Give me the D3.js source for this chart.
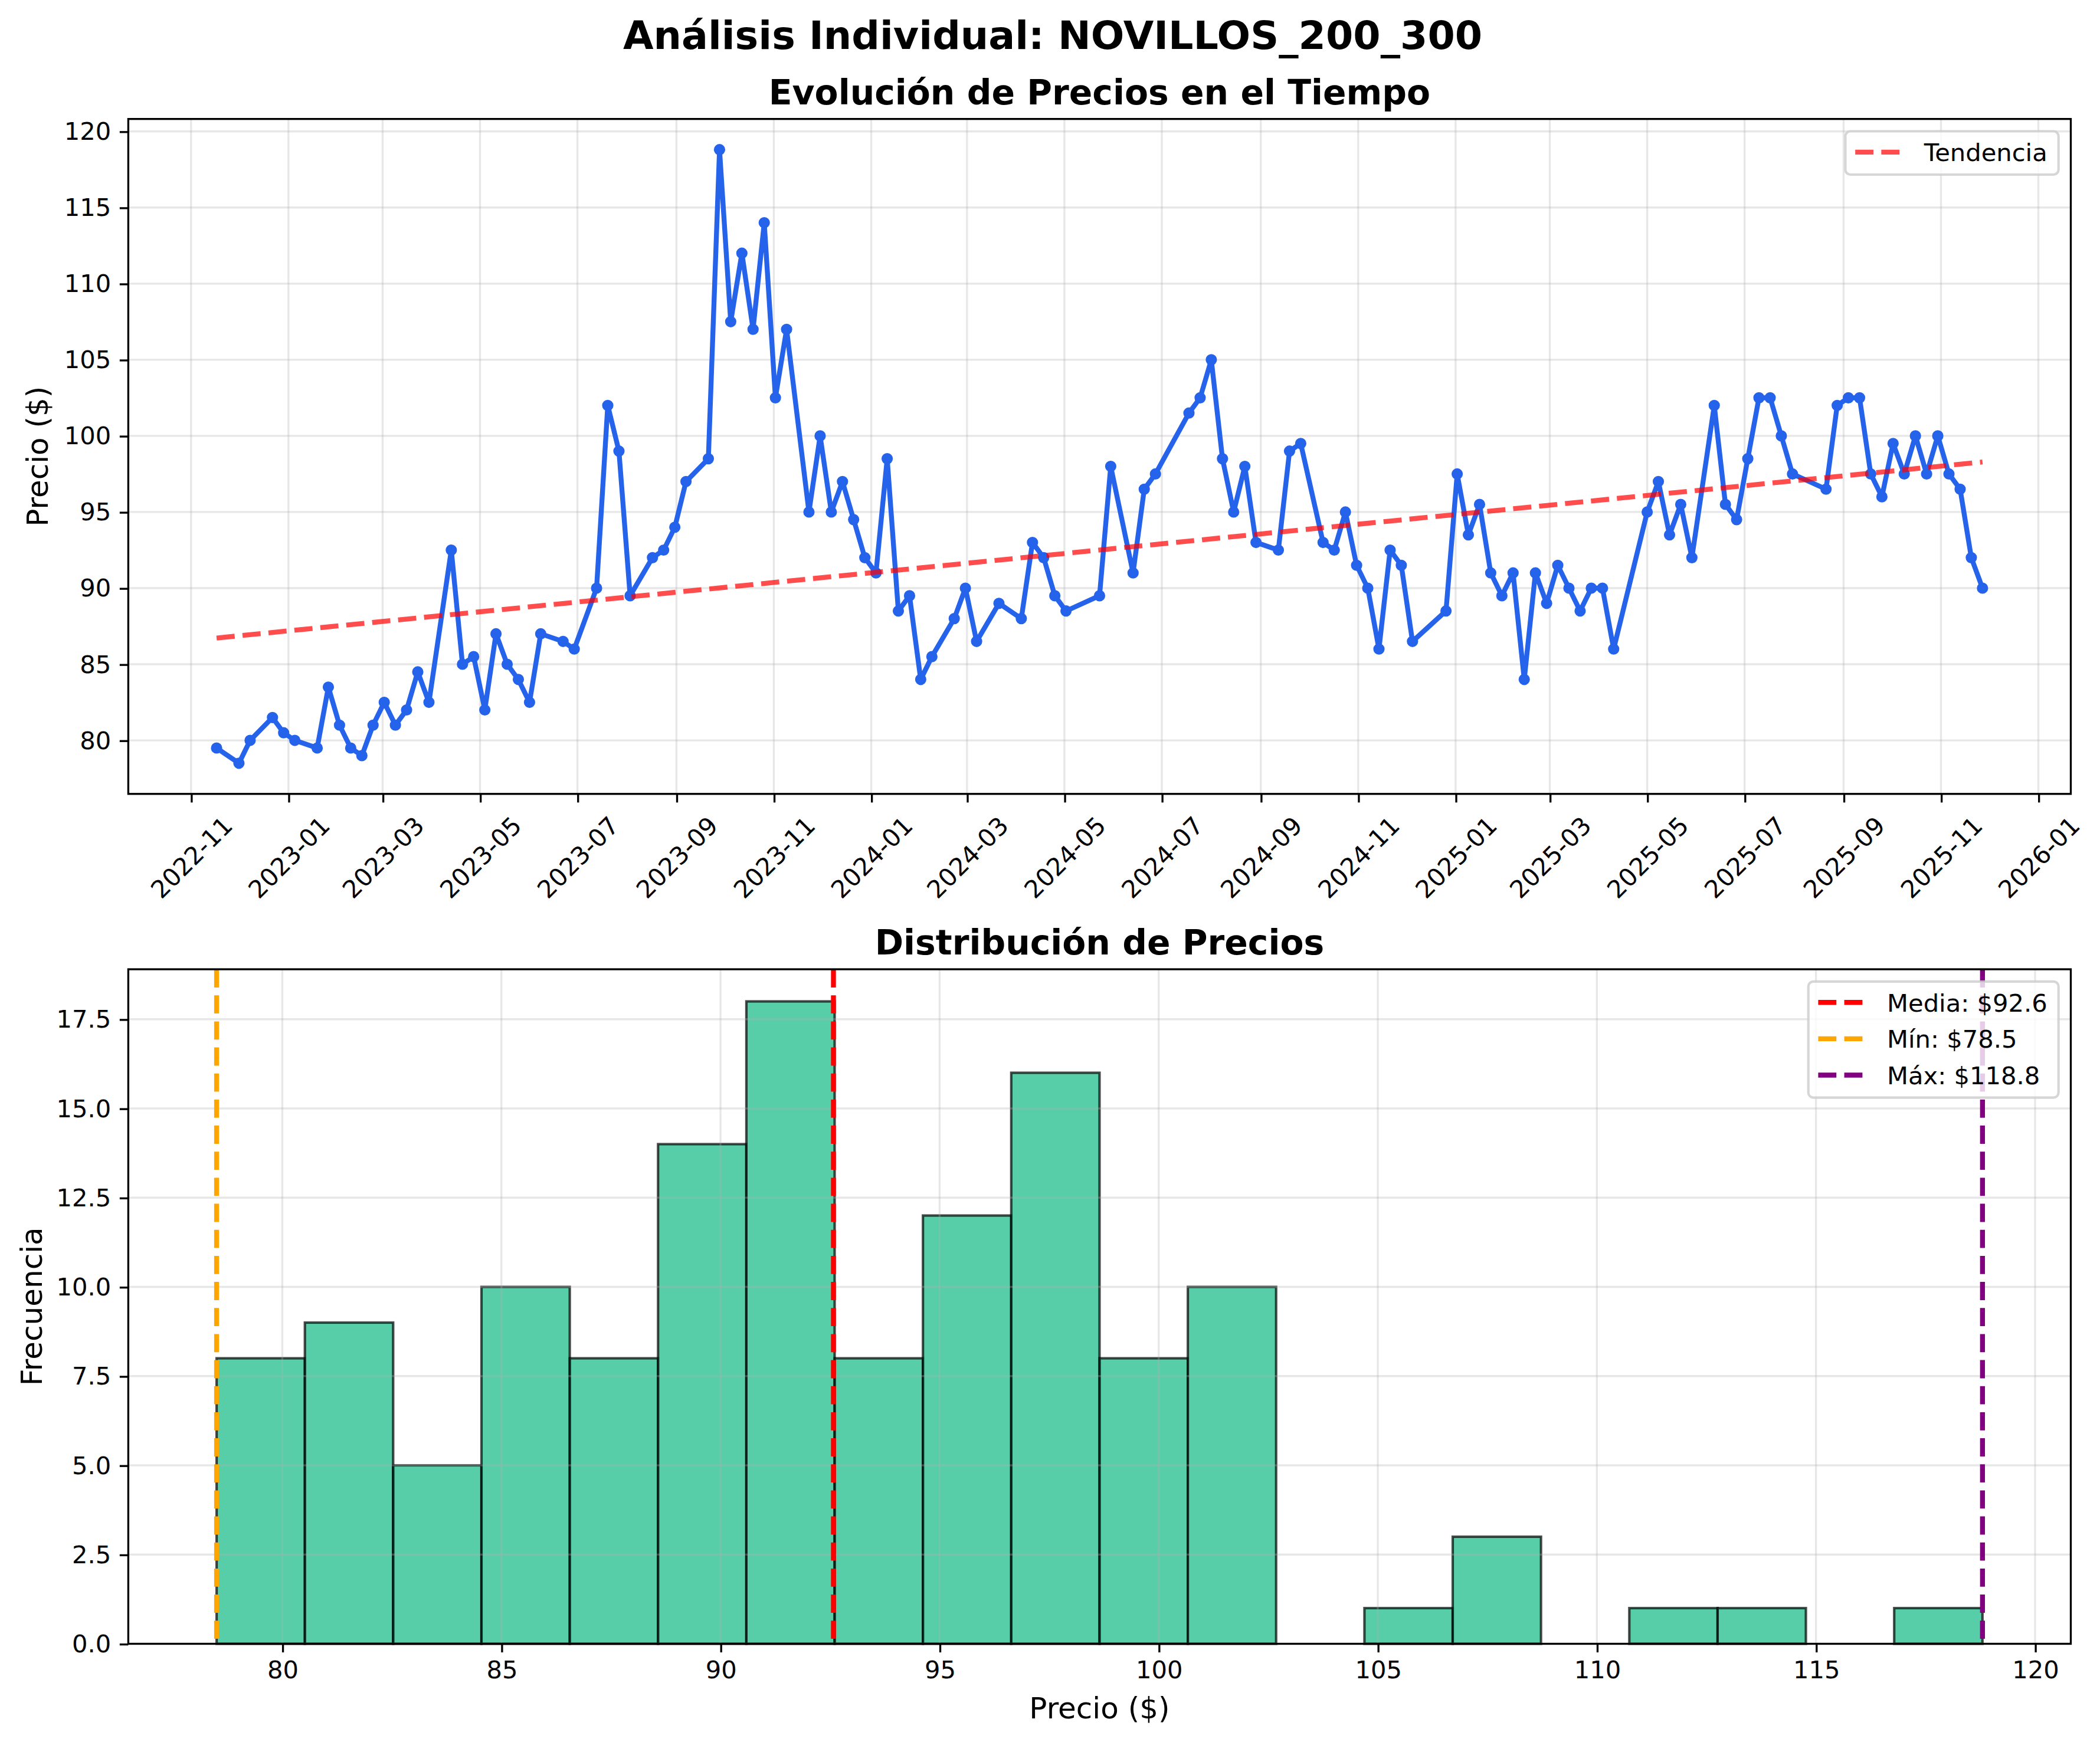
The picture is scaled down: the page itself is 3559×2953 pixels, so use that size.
<!DOCTYPE html>
<html lang="es">
<head>
<meta charset="UTF-8">
<title>Análisis Individual: NOVILLOS_200_300</title>
<script src="https://d3js.org/d3.v7.min.js"></script>
<style>
  html, body { margin: 0; padding: 0; background: #fff; overflow: hidden; }
  svg { display: block; font-family: "DejaVu Sans", sans-serif; }
</style>
</head>
<body>
<svg id="chart"></svg>
<script>
// ---- datos ----
const fechas = [
  "2022-11-17","2022-12-01","2022-12-08","2022-12-22","2022-12-29","2023-01-05","2023-01-19","2023-01-26",
  "2023-02-02","2023-02-09","2023-02-16","2023-02-23","2023-03-02","2023-03-09","2023-03-16","2023-03-23",
  "2023-03-30","2023-04-13","2023-04-20","2023-04-27","2023-05-04","2023-05-11","2023-05-18","2023-05-25",
  "2023-06-01","2023-06-08","2023-06-22","2023-06-29","2023-07-13","2023-07-20","2023-07-27","2023-08-03",
  "2023-08-17","2023-08-24","2023-08-31","2023-09-07","2023-09-21","2023-09-28","2023-10-05","2023-10-12",
  "2023-10-19","2023-10-26","2023-11-02","2023-11-09","2023-11-23","2023-11-30","2023-12-07","2023-12-14",
  "2023-12-21","2023-12-28","2024-01-04","2024-01-11","2024-01-18","2024-01-25","2024-02-01","2024-02-08",
  "2024-02-22","2024-02-29","2024-03-07","2024-03-21","2024-04-04","2024-04-11","2024-04-18","2024-04-25",
  "2024-05-02","2024-05-23","2024-05-30",
  "2024-06-13","2024-06-20","2024-06-27","2024-07-18","2024-07-25","2024-08-01","2024-08-08","2024-08-15",
  "2024-08-22","2024-08-29","2024-09-12","2024-09-19","2024-09-26","2024-10-10","2024-10-17","2024-10-24",
  "2024-10-31","2024-11-07","2024-11-14","2024-11-21","2024-11-28","2024-12-05","2024-12-26","2025-01-02",
  "2025-01-09","2025-01-16","2025-01-23","2025-01-30","2025-02-06","2025-02-13","2025-02-20","2025-02-27",
  "2025-03-06","2025-03-13","2025-03-20","2025-03-27",
  "2025-04-03","2025-04-10","2025-05-01","2025-05-08","2025-05-15","2025-05-22","2025-05-29","2025-06-12",
  "2025-06-19","2025-06-26","2025-07-03","2025-07-10","2025-07-17","2025-07-24","2025-07-31","2025-08-21",
  "2025-08-28","2025-09-04","2025-09-11","2025-09-18","2025-09-25","2025-10-02","2025-10-09","2025-10-16",
  "2025-10-23","2025-10-30","2025-11-06","2025-11-13","2025-11-20","2025-11-27"
];
const precios = [
  79.5, 78.5, 80, 81.5, 80.5, 80, 79.5, 83.5,
  81, 79.5, 79, 81, 82.5, 81, 82, 84.5,
  82.5, 92.5, 85, 85.5, 82, 87, 85, 84,
  82.5, 87, 86.5, 86, 90, 102, 99, 89.5,
  92, 92.5, 94, 97, 98.5, 118.8, 107.5, 112,
  107, 114, 102.5, 107, 95, 100, 95, 97,
  94.5, 92, 91, 98.5, 88.5, 89.5, 84, 85.5,
  88, 90, 86.5, 89, 88, 93, 92, 89.5,
  88.5, 89.5, 98,
  91, 96.5, 97.5, 101.5, 102.5, 105, 98.5, 95,
  98, 93, 92.5, 99, 99.5, 93, 92.5, 95,
  91.5, 90, 86, 92.5, 91.5, 86.5, 88.5, 97.5,
  93.5, 95.5, 91, 89.5, 91, 84, 91, 89,
  91.5, 90, 88.5, 90,
  90, 86, 95, 97, 93.5, 95.5, 92, 102,
  95.5, 94.5, 98.5, 102.5, 102.5, 100, 97.5, 96.5,
  102, 102.5, 102.5, 97.5, 96, 99.5, 97.5, 100,
  97.5, 100, 97.5, 96.5, 92, 90
];
const ticksFechas = ["2022-11","2023-01","2023-03","2023-05","2023-07","2023-09","2023-11","2024-01","2024-03",
  "2024-05","2024-07","2024-09","2024-11","2025-01","2025-03","2025-05","2025-07","2025-09","2025-11","2026-01"];
const ticksPrecio = [80, 85, 90, 95, 100, 105, 110, 115, 120];
const ticksFrecuencia = [0, 2.5, 5, 7.5, 10, 12.5, 15, 17.5];
const numBins = 20;

const tituloGeneral = "Análisis Individual: NOVILLOS_200_300";
const tituloSerie = "Evolución de Precios en el Tiempo";
const tituloHist = "Distribución de Precios";

// ---- lienzo: se dibuja en unidades de 1560 de ancho y se escala ----
const S = 3559 / 1560;
const VW = 1560, VH = 2953 / S;
const PT = 300 / 72 / S;           // un punto tipográfico en unidades del lienzo
const FS_TICK = 10 * PT, FS_LABEL = 12 * PT, FS_SUB = 14 * PT, FS_SUP = 16 * PT;
const LW_SPINE = 0.8 * PT, TICK_LEN = 3.5 * PT, TICK_PAD = 3.5 * PT;
const DASH = `${7.4 * PT} ${3.2 * PT}`;

const svg = d3.select("#chart")
  .attr("width", 3559).attr("height", 2953)
  .attr("viewBox", `0 0 ${VW} ${VH}`);
svg.append("rect").attr("width", VW).attr("height", VH).attr("fill", "#fff");

const parse = d3.utcParse("%Y-%m-%d");
const parseMes = d3.utcParse("%Y-%m");
const serie = fechas.map((f, i) => ({ fecha: parse(f), precio: precios[i] }));

const pmin = d3.min(precios), pmax = d3.max(precios), pmedia = d3.mean(precios);
const prango = pmax - pmin;

function grid(g, xs, ys, box) {
  const gg = g.append("g").attr("stroke", "#b0b0b0").attr("stroke-opacity", 0.3).attr("stroke-width", LW_SPINE);
  xs.forEach(v => gg.append("line").attr("x1", v).attr("x2", v).attr("y1", box.top).attr("y2", box.bottom));
  ys.forEach(v => gg.append("line").attr("y1", v).attr("y2", v).attr("x1", box.left).attr("x2", box.right));
}

function styleAxis(g) {
  g.select(".domain").remove();
  g.selectAll(".tick line").attr("stroke", "#000").attr("stroke-width", LW_SPINE);
  g.selectAll(".tick text").attr("font-size", FS_TICK).attr("font-family", "DejaVu Sans").attr("fill", "#000");
}

function frame(g, box) {
  g.append("rect").attr("x", box.left).attr("y", box.top)
    .attr("width", box.right - box.left).attr("height", box.bottom - box.top)
    .attr("fill", "none").attr("stroke", "#000").attr("stroke-width", LW_SPINE);
}

function legend(g, right, top, items) {
  const pad = 0.4 * FS_TICK, hl = 2 * FS_TICK, htp = 0.8 * FS_TICK, step = 27;
  const lg = g.append("g");
  const box = lg.append("rect");
  const texts = items.map((it, i) => lg.append("text")
    .attr("x", pad + hl + htp).attr("y", 22.3 + i * step)
    .attr("font-size", FS_TICK).attr("fill", "#000").text(it.label));
  const tw = d3.max(texts, t => t.node().getComputedTextLength());
  const w = 2 * pad + hl + htp + tw + 1;
  const h = 2 * pad + 17.6 + (items.length - 1) * step;
  box.attr("width", w).attr("height", h).attr("rx", 0.2 * FS_TICK)
    .attr("fill", "#fff").attr("fill-opacity", 0.8)
    .attr("stroke", "#cccccc").attr("stroke-opacity", 0.8).attr("stroke-width", PT);
  items.forEach((it, i) => lg.insert("line", "text")
    .attr("x1", pad).attr("x2", pad + hl)
    .attr("y1", 22.3 + i * step - 6.8).attr("y2", 22.3 + i * step - 6.8)
    .attr("stroke", it.color).attr("stroke-opacity", it.opacity || 1)
    .attr("stroke-width", 2 * PT).attr("stroke-dasharray", DASH));
  lg.attr("transform", `translate(${right - w},${top})`);
}

// ---- títulos ----
svg.append("text").attr("x", 782).attr("y", 36.5).attr("text-anchor", "middle")
  .attr("font-size", FS_SUP).attr("font-weight", "bold").text(tituloGeneral);

// ================= panel superior: serie temporal =================
const b1 = { left: 95.3, right: 1538.3, top: 88.4, bottom: 589.9 };
const g1 = svg.append("g");
const t0 = +serie[0].fecha, t1 = +serie[serie.length - 1].fecha, tspan = t1 - t0;
const x1 = d3.scaleUtc()
  .domain([new Date(t0 - 0.05 * tspan), new Date(t1 + 0.05 * tspan)])
  .range([b1.left, b1.right]);
const y1 = d3.scaleLinear()
  .domain([pmin - 0.05 * prango, pmax + 0.05 * prango])
  .range([b1.bottom, b1.top]);
const fechasTick = ticksFechas.map(parseMes);

g1.append("text").attr("x", (b1.left + b1.right) / 2).attr("y", b1.top - 6 * PT)
  .attr("text-anchor", "middle").attr("font-size", FS_SUB).attr("font-weight", "bold").text(tituloSerie);

grid(g1, fechasTick.map(x1), ticksPrecio.map(y1), b1);

// tendencia lineal (mínimos cuadrados sobre la fecha)
const xs = serie.map(d => +d.fecha), ys = precios;
const mx = d3.mean(xs), my = d3.mean(ys);
const slope = d3.sum(xs, (v, i) => (v - mx) * (ys[i] - my)) / d3.sum(xs, v => (v - mx) * (v - mx));
const icpt = my - slope * mx;
const tendencia = [t0, t1].map(t => ({ fecha: new Date(t), precio: icpt + slope * t }));

const linea = d3.line().x(d => x1(d.fecha)).y(d => y1(d.precio));

g1.append("path").datum(serie).attr("d", linea)
  .attr("fill", "none").attr("stroke", "#2563eb").attr("stroke-width", 2 * PT)
  .attr("stroke-linejoin", "round");
g1.append("g").selectAll("circle").data(serie).join("circle")
  .attr("cx", d => x1(d.fecha)).attr("cy", d => y1(d.precio))
  .attr("r", 2 * PT).attr("fill", "#2563eb").attr("stroke", "#2563eb").attr("stroke-width", 0.6 * PT);

g1.append("path").datum(tendencia).attr("d", linea)
  .attr("fill", "none").attr("stroke", "red").attr("stroke-opacity", 0.7)
  .attr("stroke-width", 2 * PT).attr("stroke-dasharray", DASH);

g1.append("g").attr("transform", `translate(${b1.left},0)`)
  .call(d3.axisLeft(y1).tickValues(ticksPrecio).tickSize(TICK_LEN).tickPadding(TICK_PAD).tickFormat(d3.format("d")))
  .call(styleAxis);

const ax1 = g1.append("g").attr("transform", `translate(0,${b1.bottom})`)
  .call(d3.axisBottom(x1).tickValues(fechasTick).tickSize(TICK_LEN).tickFormat(d3.utcFormat("%Y-%m")))
  .call(styleAxis);
ax1.selectAll(".tick text").each(function () {
  const t = d3.select(this);
  const w = this.getComputedTextLength();
  const bh = (w + 1.16 * FS_TICK) * Math.SQRT1_2;
  t.attr("y", null).attr("dy", null).attr("x", 0)
    .attr("text-anchor", "middle").attr("dominant-baseline", "central")
    .attr("transform", `translate(0,${TICK_LEN + TICK_PAD + bh / 2}) rotate(-45)`);
});

g1.append("text").attr("transform", `translate(28,${(b1.top + b1.bottom) / 2}) rotate(-90)`)
  .attr("text-anchor", "middle").attr("dominant-baseline", "central")
  .attr("font-size", FS_LABEL).text("Precio ($)");

frame(g1, b1);
legend(g1, b1.right - 0.5 * FS_TICK, b1.top + 0.5 * FS_TICK,
  [{ label: "Tendencia", color: "red", opacity: 0.7 }]);

// ================= panel inferior: histograma =================
const b2 = { left: 95.3, right: 1538.3, top: 720.2, bottom: 1221.4 };
const g2 = svg.append("g");
const ancho = prango / numBins;
const bins = d3.bin().domain([pmin, pmax])
  .thresholds(d3.range(1, numBins).map(i => pmin + i * ancho))(precios);
const maxCount = d3.max(bins, b => b.length);

const x2 = d3.scaleLinear().domain([pmin - 0.05 * prango, pmax + 0.05 * prango]).range([b2.left, b2.right]);
const y2 = d3.scaleLinear().domain([0, maxCount * 1.05]).range([b2.bottom, b2.top]);

g2.append("text").attr("x", (b2.left + b2.right) / 2).attr("y", b2.top - 6 * PT)
  .attr("text-anchor", "middle").attr("font-size", FS_SUB).attr("font-weight", "bold").text(tituloHist);

g2.append("g").selectAll("rect").data(bins.filter(b => b.length > 0)).join("rect")
  .attr("x", d => x2(d.x0)).attr("width", d => x2(d.x1) - x2(d.x0))
  .attr("y", d => y2(d.length)).attr("height", d => y2(0) - y2(d.length))
  .attr("fill", "#10b981").attr("fill-opacity", 0.7)
  .attr("stroke", "#000").attr("stroke-opacity", 0.7).attr("stroke-width", PT);

grid(g2, ticksPrecio.map(x2), ticksFrecuencia.map(y2), b2);

const marcas = [
  { label: `Media: $${pmedia.toFixed(1)}`, valor: pmedia, color: "red" },
  { label: `Mín: $${pmin.toFixed(1)}`, valor: pmin, color: "orange" },
  { label: `Máx: $${pmax.toFixed(1)}`, valor: pmax, color: "purple" }
];
g2.append("g").selectAll("line").data(marcas).join("line")
  .attr("x1", d => x2(d.valor)).attr("x2", d => x2(d.valor))
  .attr("y1", b2.top).attr("y2", b2.bottom)
  .attr("stroke", d => d.color).attr("stroke-width", 2 * PT).attr("stroke-dasharray", DASH);

g2.append("g").attr("transform", `translate(${b2.left},0)`)
  .call(d3.axisLeft(y2).tickValues(ticksFrecuencia).tickSize(TICK_LEN).tickPadding(TICK_PAD).tickFormat(d3.format(".1f")))
  .call(styleAxis);
g2.append("g").attr("transform", `translate(0,${b2.bottom})`)
  .call(d3.axisBottom(x2).tickValues(ticksPrecio).tickSize(TICK_LEN).tickPadding(TICK_PAD).tickFormat(d3.format("d")))
  .call(styleAxis);

g2.append("text").attr("transform", `translate(23.5,${(b2.top + b2.bottom) / 2}) rotate(-90)`)
  .attr("text-anchor", "middle").attr("dominant-baseline", "central")
  .attr("font-size", FS_LABEL).text("Frecuencia");
g2.append("text").attr("x", (b2.left + b2.right) / 2).attr("y", 1276.9)
  .attr("text-anchor", "middle").attr("font-size", FS_LABEL).text("Precio ($)");

frame(g2, b2);
legend(g2, b2.right - 0.5 * FS_TICK, b2.top + 0.5 * FS_TICK, marcas);
</script>
</body>
</html>
